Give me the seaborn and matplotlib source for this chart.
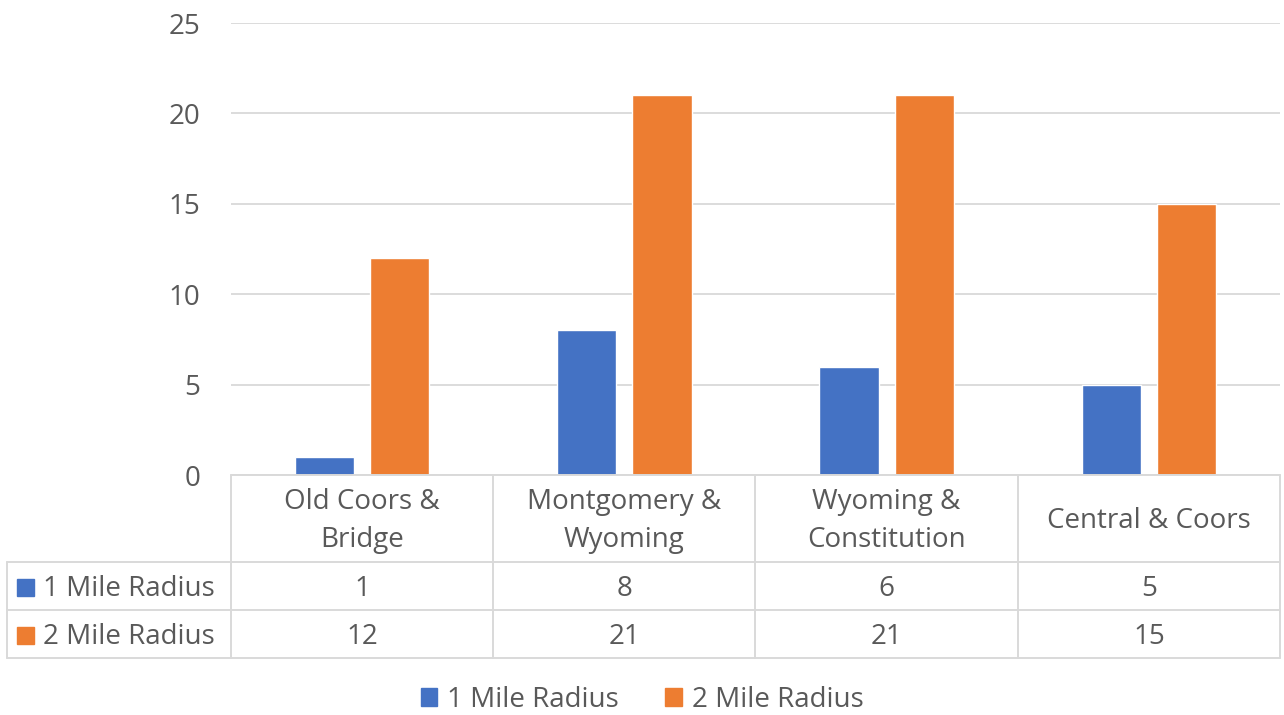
import matplotlib
matplotlib.use("Agg")
import matplotlib.pyplot as plt
from matplotlib.transforms import blended_transform_factory, ScaledTranslation
from matplotlib.lines import Line2D
from matplotlib.patches import Rectangle
import seaborn as sns
import pandas as pd

# Data
locations = ["Old Coors &\nBridge", "Montgomery &\nWyoming", "Wyoming &\nConstitution", "Central & Coors"]
series_names = ["1 Mile Radius", "2 Mile Radius"]
one_mile = [1, 8, 6, 5]
two_mile = [12, 21, 21, 15]
y_ticks = [0, 5, 10, 15, 20, 25]

colors = ["#4472C4", "#ED7D31"]
text_color = "#595959"
line_color = "#D9D9D9"

sns.set_theme(style="white")
plt.rcParams["font.family"] = ["Open Sans", "DejaVu Sans"]

df = pd.DataFrame({
    "location": locations * 2,
    "series": [series_names[0]] * 4 + [series_names[1]] * 4,
    "value": one_mile + two_mile,
})

fig = plt.figure(figsize=(12.84, 7.15), dpi=100)
ax = fig.add_axes([231 / 1284, 1 - 475 / 715, (1280 - 231) / 1284, 452 / 715])

sns.barplot(data=df, x="location", y="value", hue="series", order=locations,
            hue_order=series_names, palette=colors, width=0.572, gap=0.21,
            saturation=1, ax=ax, legend=False, errorbar=None)

fs = 20

ax.set_xlim(-0.5, 3.5)
ax.set_ylim(0, 25)
ax.set_yticks(y_ticks)
ax.set_yticklabels([str(t) for t in y_ticks])
ax.tick_params(axis="y", length=0, pad=22, labelsize=fs, labelcolor=text_color)
ax.set_xticks([])
ax.set_xlabel("")
ax.set_ylabel("")
for s in ax.spines.values():
    s.set_visible(False)
ax.yaxis.grid(True, color=line_color, linewidth=1.3)
ax.set_axisbelow(True)

# Data table under the plot
tr = blended_transform_factory(ax.transData, ax.transAxes)
# text sits a touch lower inside each cell
tr_text = tr + ScaledTranslation(0, -2.5 / 100, fig.dpi_scale_trans)
row_edges = [0.0, -87 / 452, -135 / 452, -183 / 452]
left_edge = -0.5 - 224 / 262.25
lw = 1.4
n = len(locations)

# horizontal lines
ax.add_line(Line2D([-0.5, n - 0.5], [row_edges[0]] * 2, transform=tr, color=line_color, lw=lw, clip_on=False))
for y in row_edges[1:]:
    ax.add_line(Line2D([left_edge, n - 0.5], [y, y], transform=tr, color=line_color, lw=lw, clip_on=False))
# vertical lines
for i in range(n + 1):
    ax.add_line(Line2D([i - 0.5, i - 0.5], [row_edges[0], row_edges[3]], transform=tr,
                       color=line_color, lw=lw, clip_on=False))
ax.add_line(Line2D([left_edge, left_edge], [row_edges[1], row_edges[3]], transform=tr,
                   color=line_color, lw=lw, clip_on=False))

for i, name in enumerate(locations):
    ax.text(i, (row_edges[0] + row_edges[1]) / 2, name, transform=tr_text, ha="center", va="center",
            fontsize=fs, color=text_color, linespacing=1.5, clip_on=False)
for r, (label, vals) in enumerate(zip(series_names, [one_mile, two_mile])):
    yc = (row_edges[r + 1] + row_edges[r + 2]) / 2
    ax.add_patch(Rectangle((left_edge + 10 / 262.25, yc - 10 / 452), 17 / 262.25, 17 / 452,
                           transform=tr, color=colors[r], clip_on=False))
    ax.text(left_edge + 36 / 262.25, yc, label, transform=tr_text, ha="left", va="center",
            fontsize=fs, color=text_color, clip_on=False)
    for i, v in enumerate(vals):
        ax.text(i, yc, str(v), transform=tr_text, ha="center", va="center",
                fontsize=fs, color=text_color, clip_on=False)

# Legend
handles = [Rectangle((0, 0), 1, 1, color=c) for c in colors]
fig.legend(handles, series_names, loc="center", bbox_to_anchor=(0.5, 1 - 700 / 715),
           ncol=2, frameon=False, fontsize=fs, labelcolor=text_color,
           handlelength=0.6, handleheight=0.6, handletextpad=0.36, columnspacing=1.65)

fig.savefig("out.png", dpi=100)
